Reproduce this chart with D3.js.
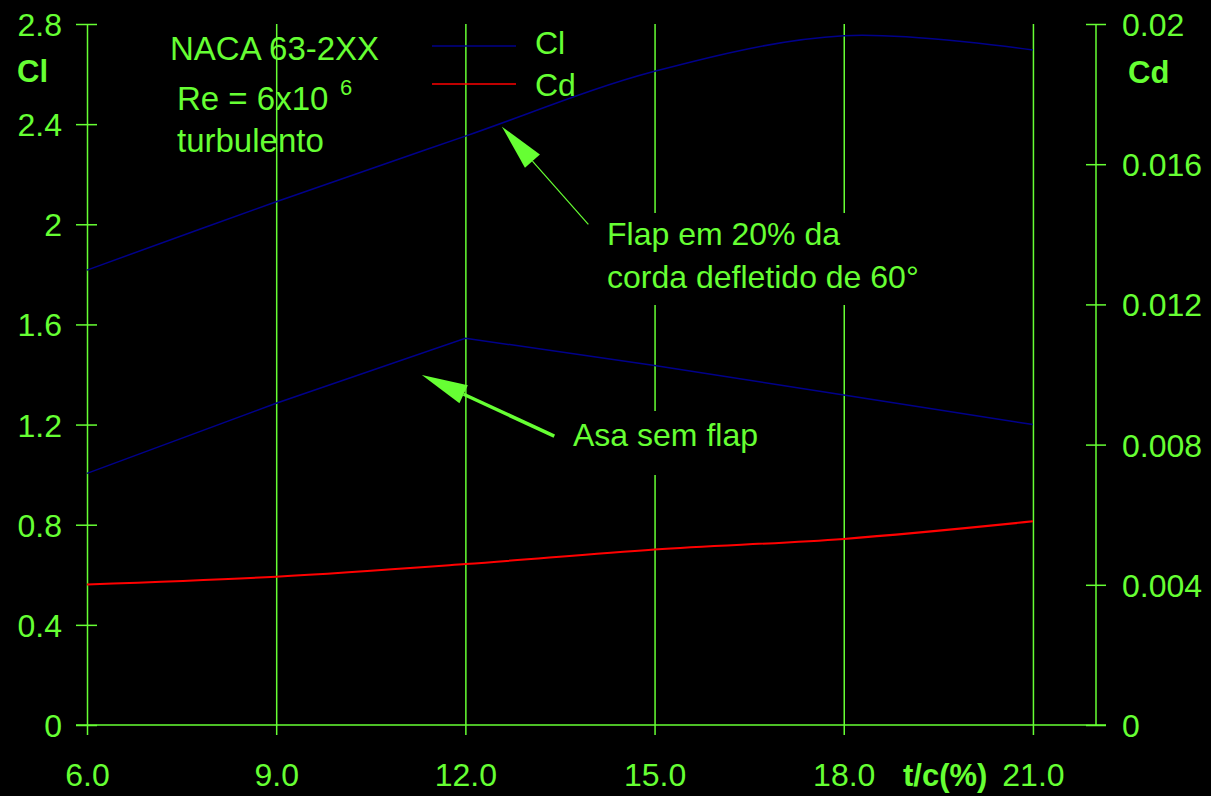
<!DOCTYPE html>
<html>
<head>
<meta charset="utf-8">
<script src="https://cdn.jsdelivr.net/npm/d3@7"></script>
<style>
  html, body { margin: 0; padding: 0; background: #000; }
  svg { display: block; }
  text { font-family: "Liberation Sans", Arial, sans-serif; fill: #66ff33; }
</style>
</head>
<body>
<svg id="chart" width="1211" height="796"></svg>
<script>
// Thickness ratio t/c (%) of the NACA 63-2XX sections
const thickness = [6, 9, 12, 15, 18, 21];
// Lift coefficient, 20% chord flap deflected 60 deg
const clFlap = [1.817, 2.09, 2.352, 2.611, 2.753, 2.696];
// Lift coefficient, plain wing
const clPlain = [1.005, 1.285, 1.545, 1.436, 1.318, 1.2];
// Drag coefficient
const cd = [0.00401, 0.00423, 0.00459, 0.00501, 0.00531, 0.00581];

const xTicks = [6, 9, 12, 15, 18, 21];
const xTickLabels = ["6.0", "9.0", "12.0", "15.0", "18.0", "21.0"];
const clTicks = [0, 0.4, 0.8, 1.2, 1.6, 2, 2.4, 2.8];
const clTickLabels = ["0", "0.4", "0.8", "1.2", "1.6", "2", "2.4", "2.8"];
const cdTicks = [0, 0.004, 0.008, 0.012, 0.016, 0.02];
const cdTickLabels = ["0", "0.004", "0.008", "0.012", "0.016", "0.02"];

const legendItems = [
  { label: "Cl", color: "#00008b" },
  { label: "Cd", color: "#ff0000" }
];

// Annotation arrows: tip and tail in data coordinates (t/c, Cl)
const arrows = [
  { tip: [12.58, 2.39], tail: [13.95, 2.0], width: 1.2 },
  { tip: [11.31, 1.398], tail: [13.41, 1.154], width: 3.5 }
];

const GREEN = "#66ff33";
const svg = d3.select("#chart");

const plotLeft = 87, plotRight = 1096, plotTop = 24, plotBottom = 725;
const x = d3.scaleLinear().domain([6, 22]).range([plotLeft, plotRight]);
const yCl = d3.scaleLinear().domain([0, 2.8]).range([plotBottom, plotTop]);
const yCd = d3.scaleLinear().domain([0, 0.02]).range([plotBottom, plotTop]);

svg.append("rect").attr("width", 1211).attr("height", 796).attr("fill", "#000");

// Vertical grid lines with tick labels along the bottom
const gx = svg.append("g")
  .attr("transform", `translate(0,${plotBottom})`)
  .call(d3.axisBottom(x).tickValues(xTicks)
    .tickFormat((d, i) => xTickLabels[i]).tickSize(0));
gx.select(".domain").remove();
gx.selectAll(".tick line")
  .attr("stroke", GREEN).attr("stroke-width", 1.5)
  .attr("y1", 10).attr("y2", plotTop - plotBottom);
gx.selectAll(".tick text")
  .attr("y", 61).attr("dy", 0)
  .style("font-size", "32px").attr("fill", GREEN);

// Horizontal base line
svg.append("line")
  .attr("x1", plotLeft - 11).attr("x2", plotRight + 10)
  .attr("y1", plotBottom).attr("y2", plotBottom)
  .attr("stroke", GREEN).attr("stroke-width", 1.5);

// Left axis (Cl)
const gl = svg.append("g")
  .attr("transform", `translate(${plotLeft},0)`)
  .call(d3.axisLeft(yCl).tickValues(clTicks)
    .tickFormat((d, i) => clTickLabels[i]).tickSize(0));
gl.select(".domain").remove();
gl.selectAll(".tick line")
  .attr("stroke", GREEN).attr("stroke-width", 1.5)
  .attr("x1", -11).attr("x2", 10);
gl.selectAll(".tick text")
  .attr("x", -25).attr("dy", "0.36em")
  .style("font-size", "32px").attr("fill", GREEN);

// Right axis (Cd)
const gr = svg.append("g")
  .attr("transform", `translate(${plotRight},0)`)
  .call(d3.axisRight(yCd).tickValues(cdTicks)
    .tickFormat((d, i) => cdTickLabels[i]).tickSize(0));
gr.select(".domain").remove();
gr.selectAll(".tick line")
  .attr("stroke", GREEN).attr("stroke-width", 1.5)
  .attr("x1", -10).attr("x2", 10);
gr.selectAll(".tick text")
  .attr("x", 26).attr("dy", "0.36em")
  .style("font-size", "32px").attr("fill", GREEN);
svg.append("line")
  .attr("x1", plotRight).attr("x2", plotRight)
  .attr("y1", plotTop).attr("y2", plotBottom)
  .attr("stroke", GREEN).attr("stroke-width", 1.5);

// Axis titles
svg.append("text").attr("x", 17).attr("y", 82)
  .style("font-size", "31px").style("font-weight", "bold").text("Cl");
svg.append("text").attr("x", 1128).attr("y", 83)
  .style("font-size", "31px").style("font-weight", "bold").text("Cd");
svg.append("text").attr("x", 903).attr("y", 786)
  .style("font-size", "31px").style("font-weight", "bold").text("t/c(%)");

// Info block
svg.append("text").attr("x", 170).attr("y", 60)
  .style("font-size", "33px").text("NACA 63-2XX");
svg.append("text").attr("x", 177).attr("y", 110)
  .style("font-size", "33px").text("Re = 6x10");
svg.append("text").attr("x", 340).attr("y", 95).style("font-size", "22px").text("6");
svg.append("text").attr("x", 177).attr("y", 152)
  .style("font-size", "33px").text("turbulento");

// Data lines
const pts = vals => thickness.map((t, i) => [t, vals[i]]);
const lineCl = d3.line().x(d => x(d[0])).y(d => yCl(d[1]));
const lineCd = d3.line().x(d => x(d[0])).y(d => yCd(d[1]));

svg.append("path").datum(pts(clFlap))
  .attr("d", lineCl.curve(d3.curveCatmullRom.alpha(0.5)))
  .attr("fill", "none").attr("stroke", "#00008b").attr("stroke-width", 1.5);
svg.append("path").datum(pts(clPlain))
  .attr("d", lineCl.curve(d3.curveLinear))
  .attr("fill", "none").attr("stroke", "#00008b").attr("stroke-width", 1.5);
svg.append("path").datum(pts(cd))
  .attr("d", lineCd.curve(d3.curveCatmullRom.alpha(0.5)))
  .attr("fill", "none").attr("stroke", "#ff0000").attr("stroke-width", 2);

// Legend
const lg = svg.append("g");
legendItems.forEach((item, i) => {
  const yy = 46 + i * 38;
  lg.append("line").attr("x1", 432).attr("x2", 516)
    .attr("y1", yy).attr("y2", yy)
    .attr("stroke", item.color).attr("stroke-width", 1.5);
  lg.append("text").attr("x", 535).attr("y", 54 + i * 42)
    .style("font-size", "32px").text(item.label);
});

// Annotation labels on black panels that hide the grid behind them
function panelLabel(lines, x0, y0, lineGap, pad) {
  const g = svg.append("g");
  const bg = g.append("rect").attr("fill", "#000");
  const t = g.append("text").style("font-size", "32px");
  lines.forEach((s, i) => {
    t.append("tspan").attr("x", x0).attr("y", y0 + i * lineGap).text(s);
  });
  const b = t.node().getBBox();
  bg.attr("x", b.x - pad[3]).attr("y", b.y - pad[0])
    .attr("width", b.width + pad[1] + pad[3])
    .attr("height", b.height + pad[0] + pad[2]);
}
panelLabel(["Flap em 20% da", "corda defletido de 60°"], 607, 245, 43, [3, 8, 10, 6]);
panelLabel(["Asa sem flap"], 573, 446, 0, [6, 8, 22, 6]);

// Arrows
arrows.forEach(a => {
  const tx = x(a.tip[0]), ty = yCl(a.tip[1]);
  const sx = x(a.tail[0]), sy = yCl(a.tail[1]);
  const ang = Math.atan2(ty - sy, tx - sx);
  const len = 46, hw = 10;
  const bx = tx - len * Math.cos(ang), by = ty - len * Math.sin(ang);
  svg.append("line")
    .attr("x1", sx).attr("y1", sy).attr("x2", bx).attr("y2", by)
    .attr("stroke", GREEN).attr("stroke-width", a.width);
  const px = -Math.sin(ang) * hw, py = Math.cos(ang) * hw;
  svg.append("path")
    .attr("d", `M${tx},${ty}L${bx + px},${by + py}L${bx - px},${by - py}Z`)
    .attr("fill", GREEN);
});
</script>
</body>
</html>
